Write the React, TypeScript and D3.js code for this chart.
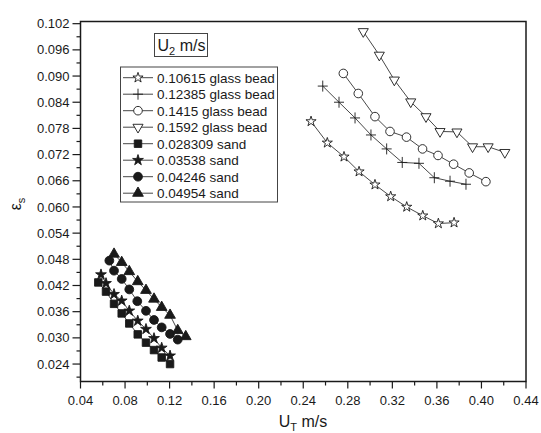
import React from 'react';
import * as d3 from 'd3';

// ---- data ----
const xTicks = [0.04, 0.08, 0.12, 0.16, 0.2, 0.24, 0.28, 0.32, 0.36, 0.4, 0.44];
const xTickLabels = ['0.04', '0.08', '0.12', '0.16', '0.20', '0.24', '0.28', '0.32', '0.36', '0.40', '0.44'];
const yTicks = [0.024, 0.03, 0.036, 0.042, 0.048, 0.054, 0.06, 0.066, 0.072, 0.078, 0.084, 0.09, 0.096, 0.102];
const yTickLabels = ['0.024', '0.030', '0.036', '0.042', '0.048', '0.054', '0.060', '0.066', '0.072', '0.078', '0.084', '0.090', '0.096', '0.102'];

const seriesLabels = [
  '0.10615 glass bead',
  '0.12385 glass bead',
  '0.1415 glass bead',
  '0.1592 glass bead',
  '0.028309 sand',
  '0.03538 sand',
  '0.04246 sand',
  '0.04954 sand',
];

const gb1X = [0.247, 0.2616, 0.2766, 0.2901, 0.3044, 0.3185, 0.3329, 0.3473, 0.3613, 0.3754];
const gb1Y = [0.0796, 0.0747, 0.0715, 0.0681, 0.0651, 0.0624, 0.06, 0.058, 0.0562, 0.0564];
const gb2X = [0.2575, 0.2721, 0.2865, 0.3008, 0.3149, 0.3289, 0.3439, 0.3577, 0.3718, 0.3861];
const gb2Y = [0.0877, 0.084, 0.0804, 0.0765, 0.0733, 0.0702, 0.07, 0.0667, 0.0659, 0.0652];
const gb3X = [0.276, 0.2894, 0.3044, 0.3179, 0.3327, 0.3471, 0.361, 0.375, 0.389, 0.404];
const gb3Y = [0.0906, 0.086, 0.0807, 0.0773, 0.076, 0.0733, 0.0718, 0.0698, 0.0678, 0.0658];
const gb4X = [0.2939, 0.3083, 0.3218, 0.3365, 0.3502, 0.3628, 0.378, 0.392, 0.406, 0.421];
const gb4Y = [0.1002, 0.0948, 0.0891, 0.0841, 0.0807, 0.0773, 0.0772, 0.0738, 0.0738, 0.0725];

const sd1X = [0.056, 0.0629, 0.0701, 0.077, 0.0838, 0.0914, 0.0988, 0.106, 0.1129, 0.1204];
const sd1Y = [0.0427, 0.0406, 0.0378, 0.0356, 0.0333, 0.0308, 0.0289, 0.0272, 0.0255, 0.024];
const sd2X = [0.0584, 0.0629, 0.0701, 0.077, 0.0838, 0.0914, 0.0988, 0.106, 0.1129, 0.1204];
const sd2Y = [0.0445, 0.0425, 0.04, 0.0385, 0.0362, 0.0339, 0.032, 0.0299, 0.0277, 0.0259];
const sd3X = [0.0659, 0.0701, 0.077, 0.0838, 0.091, 0.0988, 0.106, 0.1129, 0.1204, 0.1273];
const sd3Y = [0.0477, 0.0454, 0.0435, 0.0411, 0.0384, 0.0362, 0.0341, 0.0324, 0.0309, 0.0296];
const sd4X = [0.0701, 0.077, 0.0838, 0.0914, 0.0988, 0.106, 0.1129, 0.1204, 0.1273, 0.1345];
const sd4Y = [0.0492, 0.0473, 0.0452, 0.0429, 0.0409, 0.0389, 0.037, 0.0352, 0.0317, 0.0303];

type MarkerType = 'star' | 'plus' | 'circle' | 'triDown' | 'square' | 'triUp';
const markerTypes: MarkerType[] = ['star', 'plus', 'circle', 'triDown', 'square', 'star', 'circle', 'triUp'];
const markerFilled = [false, false, false, false, true, true, true, true];
const seriesX = [gb1X, gb2X, gb3X, gb4X, sd1X, sd2X, sd3X, sd4X];
const seriesY = [gb1Y, gb2Y, gb3Y, gb4Y, sd1Y, sd2Y, sd3Y, sd4Y];

const W = 541;
const H = 433;
const left = 80.5;
const right = 526;
const top = 21.5;
const bottom = 381.5;
const FONT = "'Liberation Sans', Arial, sans-serif";
const INK = '#1a1a1a';

function Marker({ type, x, y, filled }: { type: MarkerType; x: number; y: number; filled: boolean }) {
  const fill = filled ? INK : '#fff';
  const sw = 0.9;
  if (type === 'plus') {
    return <path d={`M${x - 5},${y}H${x + 5}M${x},${y - 5.5}V${y + 5.5}`} stroke={INK} strokeWidth={sw} fill="none" />;
  }
  if (type === 'circle') {
    return <circle cx={x} cy={y} r={filled ? 4.4 : 4.3} fill={fill} stroke={INK} strokeWidth={sw} />;
  }
  let sym: d3.SymbolType = d3.symbolStar;
  let size = 32;
  let rot = 0;
  if (type === 'triDown') { sym = d3.symbolTriangle; size = 44; rot = 180; }
  if (type === 'triUp') { sym = d3.symbolTriangle; size = 50; }
  if (type === 'square') { sym = d3.symbolSquare; size = 56; }
  if (type === 'star') { size = filled ? 36 : 32; }
  const d = d3.symbol(sym, size)() as string;
  return (
    <path
      d={d}
      transform={`translate(${x},${y}) rotate(${rot})`}
      fill={fill}
      stroke={INK}
      strokeWidth={sw}
      strokeLinejoin="miter"
    />
  );
}

export default function App() {
  const x = d3.scaleLinear().domain([0.04, 0.44]).range([left, right]);
  const y = d3.scaleLinear().domain([0.02, 0.1025]).range([bottom, top]);
  const line = d3.line<[number, number]>().x((d) => x(d[0])).y((d) => y(d[1]));

  const xMinor = d3.range(0, 20).map((i) => 0.06 + i * 0.04).filter((v) => v < 0.44);
  const yMinor = d3.range(0, 14).map((i) => 0.021 + i * 0.006).filter((v) => v < 0.1025);

  const legendTop = 77.7;
  const legendStep = 16.5;

  return (
    <svg
      width={W}
      height={H}
      style={{ position: 'absolute', left: 0, top: 0, background: '#fff' }}
      fontFamily={FONT}
    >
      <rect x={0} y={0} width={W} height={H} fill="#fff" />

      {/* series lines */}
      {seriesX.map((xs, si) => (
        <path
          key={`l${si}`}
          d={line(xs.map((v, i) => [v, seriesY[si][i]] as [number, number])) as string}
          fill="none"
          stroke="#333"
          strokeWidth={0.9}
        />
      ))}
      {/* markers */}
      {seriesX.map((xs, si) =>
        xs.map((v, i) => (
          <Marker key={`m${si}-${i}`} type={markerTypes[si]} x={x(v)} y={y(seriesY[si][i])} filled={markerFilled[si]} />
        ))
      )}

      {/* frame */}
      <rect x={left} y={top} width={right - left} height={bottom - top} fill="none" stroke={INK} strokeWidth={1.5} />

      {/* y ticks */}
      {yTicks.map((v, i) => (
        <g key={`yt${i}`}>
          <line x1={left - 8} x2={left} y1={y(v)} y2={y(v)} stroke={INK} strokeWidth={1.2} />
          <text x={left - 11} y={y(v) + 4.6} textAnchor="end" fontSize={13} fill={INK}>
            {yTickLabels[i]}
          </text>
        </g>
      ))}
      {yMinor.map((v, i) => (
        <line key={`ym${i}`} x1={left - 4} x2={left} y1={y(v)} y2={y(v)} stroke={INK} strokeWidth={1.2} />
      ))}

      {/* x ticks */}
      {xTicks.map((v, i) => (
        <g key={`xt${i}`}>
          <line x1={x(v)} x2={x(v)} y1={bottom} y2={bottom + 7} stroke={INK} strokeWidth={1.2} />
          <text x={x(v)} y={bottom + 23} textAnchor="middle" fontSize={13} fill={INK}>
            {xTickLabels[i]}
          </text>
        </g>
      ))}
      {xMinor.map((v, i) => (
        <line key={`xm${i}`} x1={x(v)} x2={x(v)} y1={bottom} y2={bottom + 4} stroke={INK} strokeWidth={1.2} />
      ))}

      {/* axis titles */}
      <text x={303} y={427} textAnchor="middle" fontSize={16} fill={INK}>
        U<tspan fontSize={11} dy={3.5}>T</tspan>
        <tspan dy={-3.5}> m/s</tspan>
      </text>
      <text transform={`translate(21,204) rotate(-90)`} textAnchor="middle" fontSize={16} fill={INK}>
        ε<tspan fontSize={11} dy={4}>s</tspan>
      </text>

      {/* legend title */}
      <rect x={154.5} y={33.5} width={53} height={23} fill="#fff" stroke="#444" strokeWidth={1} />
      <text x={157.5} y={51} fontSize={16} fill={INK}>
        U<tspan fontSize={11} dy={4}>2</tspan>
        <tspan dy={-4}> m/s</tspan>
      </text>

      {/* legend */}
      <rect x={120.5} y={67} width={157} height={135} fill="#fff" stroke="#444" strokeWidth={1} />
      {seriesLabels.map((lab, i) => {
        const cy = legendTop + i * legendStep;
        return (
          <g key={`lg${i}`}>
            <line x1={123} x2={153} y1={cy} y2={cy} stroke="#333" strokeWidth={0.9} />
            <Marker type={markerTypes[i]} x={138} y={cy} filled={markerFilled[i]} />
            <text x={157} y={cy + 4.8} fontSize={13.5} fill={INK}>
              {lab}
            </text>
          </g>
        );
      })}
    </svg>
  );
}
